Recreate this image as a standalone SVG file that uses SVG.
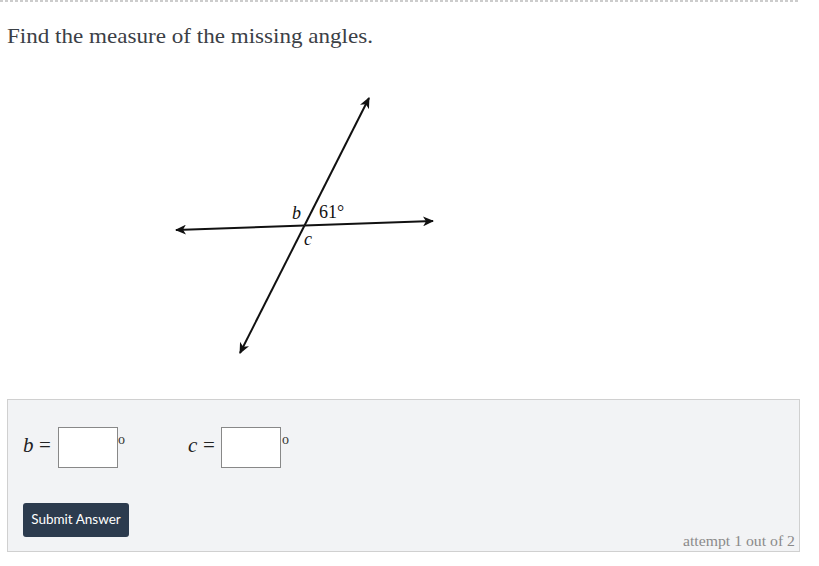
<svg xmlns="http://www.w3.org/2000/svg" width="819" height="566" viewBox="0 0 819 566">
<style>
.q{font-family:"Liberation Serif","DejaVu Serif",serif;fill:#3b4046;font-size:21px}
.lbl{font-family:"Liberation Serif","DejaVu Serif",serif;fill:#111;font-size:18px}
.big{font-family:"Liberation Serif","DejaVu Serif",serif;fill:#222;font-size:21px}
.deg{font-family:"Liberation Serif","DejaVu Serif",serif;fill:#333;font-size:14px}
.it{font-style:italic}
.ln{stroke:#111;stroke-width:2;fill:none}
.box{fill:#fff;stroke:#888;stroke-width:1}
</style>
<defs>
<marker id="arr" viewBox="0 0 12 10" refX="10" refY="5" markerWidth="12" markerHeight="10" markerUnits="userSpaceOnUse" orient="auto">
<path d="M0,0 L11,5 L0,10 L3,5 Z" fill="#111"/>
</marker>
</defs>
<rect width="819" height="566" fill="#fff"/>
<line x1="0" y1="1" x2="800" y2="1" stroke="#999" stroke-width="1" stroke-dasharray="3,2"/>
<text class="q" x="7" y="43" textLength="366" lengthAdjust="spacingAndGlyphs">Find the measure of the missing angles.</text>
<g id="connectors">
<line class="ln" x1="304.5" y1="225.5" x2="369" y2="98" marker-end="url(#arr)"/>
<line class="ln" x1="304.5" y1="225.5" x2="240" y2="353" marker-end="url(#arr)"/>
<line class="ln" x1="304.5" y1="225.5" x2="433" y2="221" marker-end="url(#arr)"/>
<line class="ln" x1="304.5" y1="225.5" x2="176" y2="230" marker-end="url(#arr)"/>
</g>
<g id="label-b"><text class="lbl it" x="292" y="219">b</text></g>
<g id="label-61"><text class="lbl" x="319" y="218">61°</text></g>
<g id="label-c"><text class="lbl it" x="304" y="245">c</text></g>
<g id="panel">
<rect x="7.5" y="399.5" width="792" height="152" fill="#f2f3f5" stroke="#d0d0d0"/>
<text class="big it" x="23" y="452">b</text>
<text class="big" x="39" y="452">=</text>
<rect class="box" x="58.5" y="427.5" width="59" height="40"/>
<text class="deg" x="118" y="444">o</text>
<text class="big it" x="188" y="452">c</text>
<text class="big" x="203" y="452">=</text>
<rect class="box" x="221.5" y="427.5" width="59" height="40"/>
<text class="deg" x="282" y="444">o</text>
<rect x="23" y="503" width="106" height="34" rx="3" fill="#2c3b4e"/>
<text x="76" y="524" text-anchor="middle" font-family="Lato, 'Liberation Sans', sans-serif" font-size="13.5" fill="#fff">Submit Answer</text>
<text x="795" y="546" text-anchor="end" font-family="'Liberation Serif', serif" font-size="15" fill="#8a8a8a" textLength="112" lengthAdjust="spacingAndGlyphs">attempt 1 out of 2</text>
</g>
</svg>
